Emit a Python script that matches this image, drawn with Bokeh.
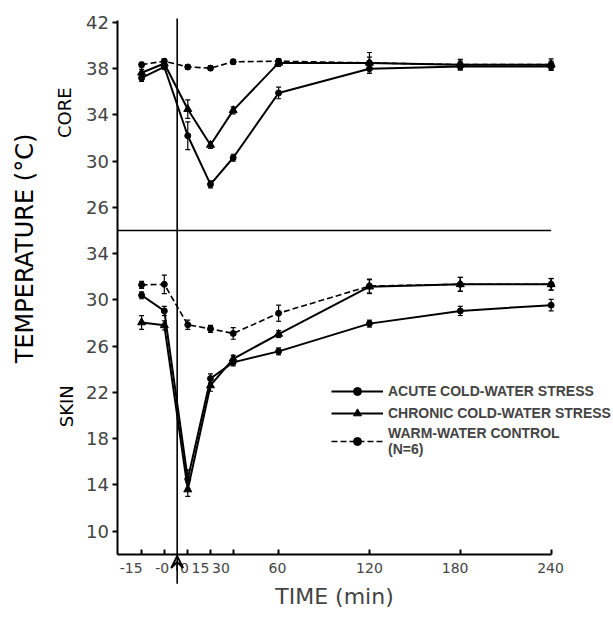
from bokeh.plotting import figure
from bokeh.models import (Range1d, FixedTicker, Arrow, VeeHead, Whisker, TeeHead, LinearAxis,
                          ColumnDataSource, Legend, LegendItem, Label)
from bokeh.embed import file_html
from bokeh.resources import INLINE
import math

# ---------------- data ----------------
time_labels = ["-15", "-0", "0", "15", "30", "60", "120", "180", "240"]
time_minutes = [-15, 0, 0, 15, 30, 60, 120, 180, 240]
pre_immersion = [True, True, False, False, False, False, False, False, False]

core_acute = [37.2, 38.15, 32.2, 28.0, 30.3, 35.9, 38.0, 38.2, 38.2]
core_acute_err = [0.3, 0.2, 1.2, 0.3, 0.3, 0.5, 0.4, 0.3, 0.3]
core_chronic = [37.65, 38.45, 34.5, 31.4, 34.4, 38.5, 38.5, 38.35, 38.35]
core_chronic_err = [0.3, 0.3, 0.8, 0.3, 0.3, 0.3, 0.9, 0.45, 0.5]
core_warm = [38.35, 38.65, 38.15, 38.05, 38.6, 38.65, 38.5, 38.35, 38.35]
core_warm_err = [0.2, 0.2, 0.2, 0.2, 0.2, 0.2, 0.5, 0.3, 0.3]

skin_acute = [30.4, 29.05, 14.5, 23.2, 24.6, 25.55, 27.95, 29.05, 29.55]
skin_acute_err = [0.3, 0.4, 0.8, 0.4, 0.3, 0.3, 0.3, 0.4, 0.5]
skin_chronic = [28.05, 27.8, 13.6, 22.6, 24.9, 27.05, 31.15, 31.35, 31.35]
skin_chronic_err = [0.6, 0.4, 0.6, 0.5, 0.3, 0.3, 0.6, 0.6, 0.5]
skin_warm = [31.3, 31.35, 27.85, 27.5, 27.1, 28.85, 31.2, 31.35, 31.35]
skin_warm_err = [0.3, 0.8, 0.4, 0.3, 0.5, 0.7, 0.6, 0.6, 0.5]

core_ticks = [26, 30, 34, 38, 42]
skin_ticks = [10, 14, 18, 22, 26, 30, 34]

# ---------------- layout constants ----------------
AXIS_BREAK = 15.5        # axis gap (minutes) shifting the pre-immersion points left
CORE_OFFSET = 12         # core panel sits above skin panel (24 C core <-> 36 skin)
X_LEFT, X_RIGHT = -46.1, 240
Y_BOTTOM, Y_TOP = 8, 54.15
IMMERSION_X = -7
# hand-placed tick label centres (crowded labels were shifted in the original)
label_centres = [-37.4, -16.9, -2.2, 8.4, 21.9, 59.2, 120, 176.6, 239.6]
FONT = "DejaVu Sans"

xpos = [t - AXIS_BREAK if pre else t for t, pre in zip(time_minutes, pre_immersion)]

p = figure(width=613, height=617, output_backend="svg", toolbar_location=None,
           x_range=Range1d(-123.7, 281.2), y_range=Range1d(2.53, 55.9),
           min_border_left=0, min_border_right=0, min_border_top=0, min_border_bottom=0)
p.extra_y_ranges = {"core": Range1d(2.53 - CORE_OFFSET, 55.9 - CORE_OFFSET)}
p.outline_line_color = None
p.xgrid.visible = False
p.ygrid.visible = False
p.background_fill_color = "white"


def series(vals, errs, rng, dashed, marker, size, lw):
    src = ColumnDataSource(dict(x=xpos, y=vals,
                                lo=[v - e for v, e in zip(vals, errs)],
                                hi=[v + e for v, e in zip(vals, errs)]))
    kw = {} if rng is None else {"y_range_name": rng}
    ln = p.line("x", "y", source=src, line_color="black", line_width=lw,
                line_dash="6 3" if dashed else "solid", **kw)
    sc = p.scatter("x", "y", source=src, marker=marker, size=size, color="black", **kw)
    wk = Whisker(base="x", lower="lo", upper="hi", source=src, line_color="black", line_width=1.2,
                 upper_head=TeeHead(size=5, line_color="black", line_width=1.2),
                 lower_head=TeeHead(size=5, line_color="black", line_width=1.2))
    if rng is not None:
        wk.y_range_name = rng
    p.add_layout(wk)
    return ln, sc


series(core_warm, core_warm_err, "core", True, "circle", 6, 1.6)
series(core_acute, core_acute_err, "core", False, "circle", 6, 2)
series(core_chronic, core_chronic_err, "core", False, "triangle", 8, 2)
w_ln, w_sc = series(skin_warm, skin_warm_err, None, True, "circle", 6, 1.6)
a_ln, a_sc = series(skin_acute, skin_acute_err, None, False, "circle", 6, 2)
c_ln, c_sc = series(skin_chronic, skin_chronic_err, None, False, "triangle", 8, 2)

# divider between the two panels
p.segment(x0=[X_LEFT], y0=[36], x1=[X_RIGHT], y1=[36], line_color="black", line_width=1.6)

# immersion line with upward arrow under the axis
p.segment(x0=[IMMERSION_X], y0=[5.45], x1=[IMMERSION_X], y1=[54.35],
          line_color="black", line_width=1.6)
p.add_layout(Arrow(x_start=IMMERSION_X, y_start=6.6, x_end=IMMERSION_X, y_end=7.85,
                   end=VeeHead(size=12, line_color="black", line_width=1.8, fill_alpha=0),
                   line_color="black", line_width=1.6))

# ---------------- axes ----------------
ax = p.xaxis[0]
ax.fixed_location = Y_BOTTOM
ax.bounds = (X_LEFT, X_RIGHT)
ax.ticker = FixedTicker(ticks=xpos)
ax.major_label_text_alpha = 0
ax.major_label_text_font_size = "14px"
ax.minor_tick_line_color = None
ax.major_tick_in = 5
ax.major_tick_out = 0
ax.axis_line_width = 2
ax.major_tick_line_width = 2

lab_ax = LinearAxis(fixed_location=Y_BOTTOM, bounds=(X_LEFT, X_RIGHT),
                    ticker=FixedTicker(ticks=label_centres),
                    major_label_overrides={x: l for x, l in zip(label_centres, time_labels)},
                    axis_line_alpha=0, major_tick_in=0, major_tick_out=0,
                    minor_tick_line_color=None, major_tick_line_color=None,
                    major_label_standoff=9, major_label_text_font=FONT,
                    major_label_text_font_size="14px",
                    axis_label="TIME (min)", axis_label_text_font=FONT,
                    axis_label_text_font_size="22px", axis_label_text_font_style="normal",
                    axis_label_standoff=7)
p.add_layout(lab_ax, "below")

ay = p.yaxis[0]
ay.fixed_location = X_LEFT
ay.bounds = (Y_BOTTOM, Y_TOP)
ay_ticks = skin_ticks + [t + CORE_OFFSET for t in core_ticks]
ay.ticker = FixedTicker(ticks=ay_ticks)
ay.major_label_overrides = {**{t: str(t) for t in skin_ticks},
                            **{t + CORE_OFFSET: str(t) for t in core_ticks}}
ay.minor_tick_line_color = None
ay.major_tick_in = 0
ay.major_tick_out = 5
ay.axis_line_width = 2
ay.major_tick_line_width = 2
ay.major_label_standoff = 4
ay.major_label_text_font = FONT
ay.major_label_text_font_size = "18px"

# side labels
for txt, x, y, size in [("TEMPERATURE (°C)", -107.2, 34.45, "24px"),
                        ("CORE", -81.4, 46.2, "18px"),
                        ("SKIN", -80.1, 20.8, "18px")]:
    p.add_layout(Label(x=x, y=y, text=txt, angle=math.pi / 2, text_align="center",
                       text_baseline="middle", text_font=FONT, text_font_size=size,
                       text_color="black"))

legend = Legend(items=[LegendItem(label="ACUTE COLD-WATER STRESS", renderers=[a_ln, a_sc]),
                       LegendItem(label="CHRONIC COLD-WATER STRESS", renderers=[c_ln, c_sc]),
                       LegendItem(label="WARM-WATER CONTROL\n(N=6)", renderers=[w_ln, w_sc])],
                location=(331, 160), glyph_width=52, glyph_height=20, label_standoff=5,
                spacing=2, padding=0, margin=0, border_line_color=None,
                background_fill_alpha=0, label_text_font="Liberation Sans",
                label_text_font_size="14px", label_text_font_style="bold")
p.add_layout(legend)

open("out.html", "w").write(file_html(p, INLINE))
